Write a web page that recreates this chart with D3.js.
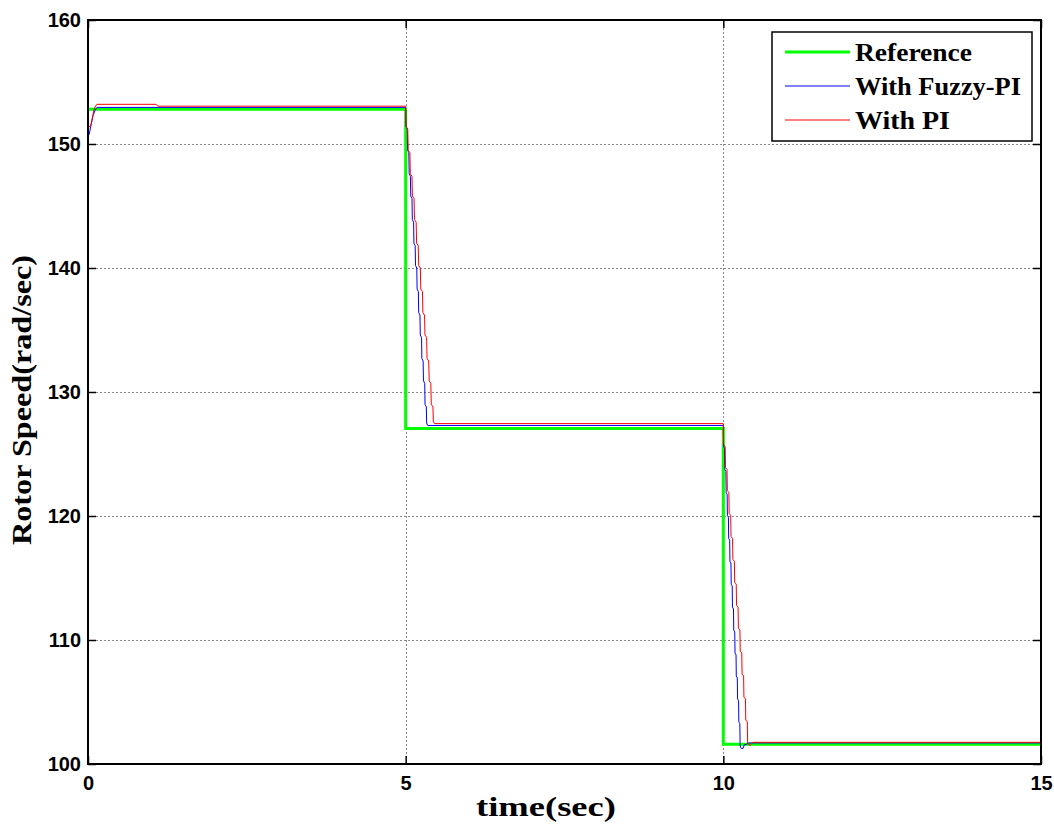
<!DOCTYPE html>
<html>
<head>
<meta charset="utf-8">
<script src="https://cdn.jsdelivr.net/npm/d3@7"></script>
<style>
  html, body { margin: 0; padding: 0; background: #fff; }
  svg { display: block; }
</style>
</head>
<body>
<svg id="chart" width="1054" height="825"></svg>
<script>
// Rotor speed step response: reference vs. Fuzzy-PI and conventional PI controllers
const timeTicks = [0, 5, 10, 15];
const speedTicks = [100, 110, 120, 130, 140, 150, 160];
const seriesNames = ["Reference", "With Fuzzy-PI", "With PI"];

// [time (s), speed (rad/s)]
const reference = [
  [0, 152.8], [5, 152.8], [5, 127.05], [10, 127.05], [10, 101.6], [15, 101.6]
];

const fuzzyPI = [
  [0.00, 150.6], [0.02, 150.8], [0.05, 151.6], [0.08, 152.3], [0.11, 152.7], [0.14, 152.95],
  [5.000, 152.95], [5.005, 151.4], [5.025, 151.2], [5.030, 149.5], [5.050, 149.3], [5.055, 147.6],
  [5.075, 147.4], [5.080, 145.8], [5.100, 145.6], [5.105, 143.9], [5.125, 143.7], [5.130, 142.0],
  [5.150, 141.8], [5.155, 140.2], [5.175, 140.0], [5.180, 138.3], [5.200, 138.1], [5.205, 136.4],
  [5.225, 136.2], [5.230, 134.6], [5.250, 134.4], [5.255, 132.7], [5.275, 132.5], [5.280, 130.9],
  [5.300, 130.7], [5.305, 129.0], [5.325, 128.8], [5.330, 127.5], [5.345, 127.3],
  [10.000, 127.3], [10.004, 125.6], [10.020, 125.45], [10.024, 123.75], [10.040, 123.6],
  [10.044, 121.9], [10.060, 121.75], [10.064, 120.05], [10.080, 119.9], [10.084, 118.2],
  [10.100, 118.05], [10.104, 116.35], [10.120, 116.2], [10.124, 114.5], [10.140, 114.35],
  [10.144, 112.65], [10.160, 112.5], [10.164, 110.8], [10.180, 110.65], [10.184, 108.95],
  [10.200, 108.8], [10.204, 107.1], [10.220, 106.95], [10.224, 105.25], [10.240, 105.1],
  [10.244, 103.4], [10.260, 103.25], [10.264, 101.55], [10.275, 101.3], [10.29, 101.25],
  [10.31, 101.25], [10.33, 101.55], [10.37, 101.6], [10.40, 101.7], [15, 101.7]
];

const conventionalPI = [
  [0.00, 152.6], [0.01, 151.4], [0.04, 151.4], [0.10, 152.9], [0.14, 153.2],
  [1.07, 153.2], [1.10, 153.05],
  [5.000, 153.05], [5.007, 151.4], [5.033, 151.2], [5.040, 149.5], [5.066, 149.3], [5.073, 147.6],
  [5.099, 147.4], [5.106, 145.8], [5.132, 145.6], [5.139, 143.9], [5.165, 143.7], [5.172, 142.0],
  [5.198, 141.8], [5.205, 140.2], [5.231, 140.0], [5.238, 138.3], [5.264, 138.1], [5.271, 136.4],
  [5.297, 136.2], [5.304, 134.6], [5.330, 134.4], [5.337, 132.7], [5.363, 132.5], [5.370, 130.9],
  [5.396, 130.7], [5.403, 129.0], [5.429, 128.8], [5.436, 127.6], [5.455, 127.45],
  [10.000, 127.45], [10.005, 125.75], [10.029, 125.6], [10.034, 123.9], [10.058, 123.75],
  [10.063, 122.05], [10.087, 121.9], [10.092, 120.2], [10.116, 120.05], [10.121, 118.35],
  [10.145, 118.2], [10.150, 116.5], [10.174, 116.35], [10.179, 114.65], [10.203, 114.5],
  [10.208, 112.8], [10.232, 112.65], [10.237, 110.95], [10.261, 110.8], [10.266, 109.1],
  [10.290, 108.95], [10.295, 107.25], [10.319, 107.1], [10.324, 105.4], [10.348, 105.25],
  [10.353, 103.55], [10.377, 103.4], [10.382, 101.7], [10.40, 101.55], [10.42, 101.5],
  [10.44, 101.6], [10.47, 101.75], [15, 101.75]
];

const svg = d3.select("#chart");
const plot = { left: 88, right: 1041, top: 20, bottom: 764 };

const x = d3.scaleLinear().domain([0, 15]).range([plot.left, plot.right]);
const y = d3.scaleLinear().domain([100, 160]).range([plot.bottom, plot.top]);

// Dotted grid
const grid = svg.append("g").attr("stroke", "#8a8a8a").attr("stroke-width", 1)
  .attr("stroke-dasharray", "2,2");
grid.selectAll("line.gx").data(timeTicks.slice(1, -1)).join("line")
  .attr("x1", d => Math.round(x(d)) + 0.5).attr("x2", d => Math.round(x(d)) + 0.5)
  .attr("y1", plot.top).attr("y2", plot.bottom);
grid.selectAll("line.gy").data(speedTicks.slice(1, -1)).join("line")
  .attr("y1", d => Math.round(y(d)) + 0.5).attr("y2", d => Math.round(y(d)) + 0.5)
  .attr("x1", plot.left).attr("x2", plot.right);

// Series
const line = d3.line().x(d => x(d[0])).y(d => y(d[1]));
const series = [
  { data: reference, color: "#00ff00", width: 3 },
  { data: fuzzyPI, color: "#0000ff", width: 1 },
  { data: conventionalPI, color: "#ff0000", width: 1 }
];
svg.append("g").selectAll("path").data(series).join("path")
  .attr("d", d => line(d.data))
  .attr("fill", "none")
  .attr("stroke", d => d.color)
  .attr("stroke-width", d => d.width)
  .attr("stroke-linejoin", "miter");

// Axes: inward ticks on all four sides
const tickLen = 8;
const axisLeft = svg.append("g").attr("transform", `translate(${plot.left},0)`)
  .call(d3.axisLeft(y).tickValues(speedTicks).tickSize(-tickLen).tickPadding(7));
const axisBottom = svg.append("g").attr("transform", `translate(0,${plot.bottom})`)
  .call(d3.axisBottom(x).tickValues(timeTicks).tickSize(-tickLen).tickPadding(12));
const axisRight = svg.append("g").attr("transform", `translate(${plot.right},0)`)
  .call(d3.axisRight(y).tickValues(speedTicks).tickSize(-tickLen).tickFormat(""));
const axisTop = svg.append("g").attr("transform", `translate(0,${plot.top})`)
  .call(d3.axisTop(x).tickValues(timeTicks).tickSize(-tickLen).tickFormat(""));

[axisLeft, axisBottom, axisRight, axisTop].forEach(a => {
  a.select(".domain").remove();
  a.selectAll(".tick line").attr("stroke", "#000").attr("stroke-width", 1.5);
});
[axisLeft, axisBottom].forEach(a => {
  a.selectAll(".tick text")
    .attr("fill", "#000")
    .style("font-family", "'Liberation Sans', Arial, sans-serif")
    .style("font-weight", "bold")
    .style("font-size", "20px");
});

// Box
svg.append("rect")
  .attr("x", plot.left).attr("y", plot.top)
  .attr("width", plot.right - plot.left).attr("height", plot.bottom - plot.top)
  .attr("fill", "none").attr("stroke", "#000").attr("stroke-width", 2);

// Axis titles
const serif = "'Liberation Serif', 'Times New Roman', serif";
svg.append("text")
  .attr("x", 546).attr("y", 816)
  .attr("text-anchor", "middle")
  .attr("textLength", 140).attr("lengthAdjust", "spacingAndGlyphs")
  .style("font-family", serif).style("font-weight", "bold").style("font-size", "27px")
  .text("time(sec)");
svg.append("text")
  .attr("transform", `translate(31,400) rotate(-90)`)
  .attr("text-anchor", "middle")
  .attr("textLength", 290).attr("lengthAdjust", "spacingAndGlyphs")
  .style("font-family", serif).style("font-weight", "bold").style("font-size", "27px")
  .text("Rotor Speed(rad/sec)");

// Legend
const legendWidths = [117, 166, 95];
const legend = svg.append("g");
legend.append("rect")
  .attr("x", 772).attr("y", 32).attr("width", 260).attr("height", 109)
  .attr("fill", "#fff").attr("stroke", "#000").attr("stroke-width", 1.5);
const rows = legend.selectAll("g.row").data(series).join("g")
  .attr("transform", (d, i) => `translate(0,${52 + i * 34})`);
rows.append("line")
  .attr("x1", 785).attr("x2", 850).attr("y1", 0).attr("y2", 0)
  .attr("stroke", d => d.color).attr("stroke-width", d => d.width);
rows.append("text")
  .attr("x", 855).attr("y", 9)
  .attr("textLength", (d, i) => legendWidths[i]).attr("lengthAdjust", "spacingAndGlyphs")
  .style("font-family", serif).style("font-weight", "bold").style("font-size", "26px")
  .text((d, i) => seriesNames[i]);
</script>
</body>
</html>
